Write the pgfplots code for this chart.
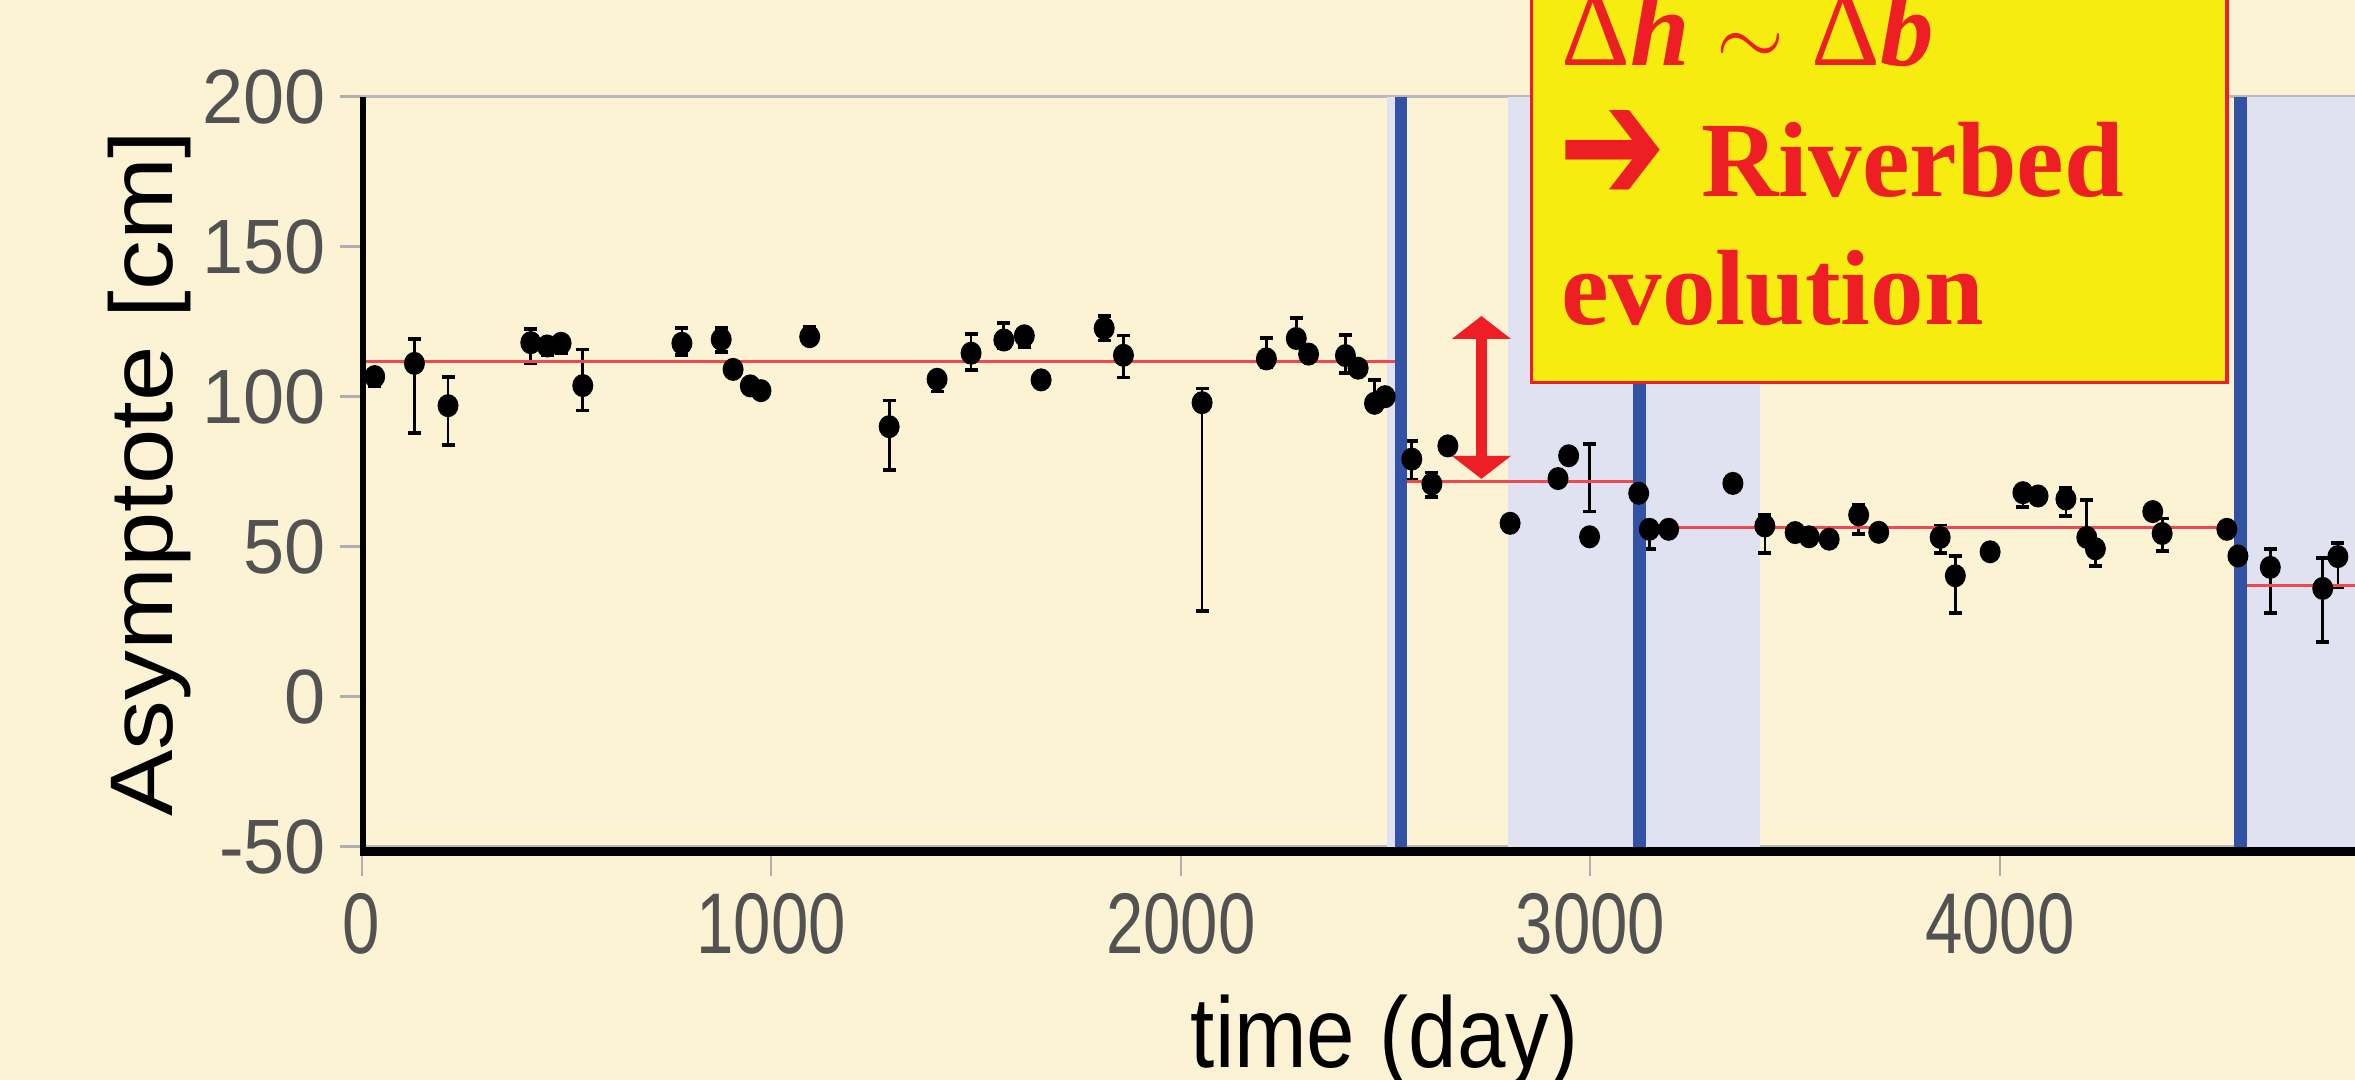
\documentclass[border=0pt]{standalone}
\usepackage{pgfplots}
\usepackage{pgfplotstable}
\usepackage{graphicx}
\pgfplotsset{compat=1.18}
\usepackage{fontspec}
\setmainfont{Liberation Sans}
\newfontfamily\tnr{Liberation Serif}
\newfontfamily\dejavu{DejaVu Sans}
\usetikzlibrary{arrows.meta}
\definecolor{cream}{RGB}{252,243,213}
\definecolor{lav}{RGB}{224,225,241}
\definecolor{blueline}{RGB}{50,82,165}
\definecolor{meanred}{RGB}{238,72,82}
\definecolor{arrowred}{RGB}{237,30,36}
\definecolor{boxyellow}{RGB}{246,236,16}
\definecolor{framegray}{RGB}{185,185,185}
\definecolor{tickgray}{RGB}{175,175,175}
\definecolor{labelgray}{RGB}{82,82,82}
\newcommand\xtl[1]{\scalebox{0.78}[1]{#1}}
\newcommand\ytl[1]{\scalebox{0.96}[1]{#1}}

\pgfplotstableread{
x y ep em
32 106.7 0 3.1
129 111.1 8.1 23.3
211 97.0 9.6 13.1
413 118.0 4.6 6.9
453 116.9 0 3.0
487 117.8 0 3.3
540 103.7 12.0 8.3
782 117.8 5.0 3.9
878 119.1 3.7 4.1
907 109.1 0 0
949 103.6 0 0
975 102.0 0 0
1094 120.0 3.3 0
1288 90.0 8.7 14.4
1405 105.8 0 4.1
1488 114.5 6.4 5.6
1568 118.9 5.6 2.8
1618 120.3 0 3.7
1659 105.6 0 0
1813 122.8 4.1 4.1
1860 113.8 6.6 7.4
2052 98.0 4.7 69.4
2209 112.6 6.9 2.6
2282 119.4 6.9 0
2312 114.2 0 0
2402 113.7 6.8 5.7
2433 109.5 0 0
2473 97.8 7.8 0
2499 100.0 0 0
2564 79.2 6.0 6.8
2613 70.9 3.8 4.4
2652 83.6 0 0
2804 57.8 0 0
2921 72.7 0 0
2947 80.3 0 0
2998 53.3 0 0
3118 67.8 0 0
3144 55.8 0 6.7
3191 55.8 0 0
3348 71.1 0 0
3426 56.9 3.7 9.1
3500 54.7 0 0
3534 53.3 0 0
3583 52.5 0 0
3655 60.6 3.3 6.3
3704 54.8 0 0
3854 53.1 3.9 5.1
3891 40.3 6.6 12.3
3976 48.3 0 0
4056 68.0 0 4.9
4093 66.9 0 0
4161 65.9 3.6 5.6
4212 53.1 12.4 0
4233 49.3 0 5.8
4373 61.7 0 0
4396 54.4 5.0 5.8
4554 55.8 0 0
4581 46.9 0 0
4660 43.1 6.0 15.3
4788 36.1 10.0 18.0
4825 46.7 4.4 10.2
}\asym

\begin{document}
\begin{tikzpicture}
\useasboundingbox (0,0) rectangle (235.5mm,108mm);
\clip (0,0) rectangle (235.5mm,108mm);
\fill[cream] (0,0) rectangle (235.5mm,108mm);
\begin{axis}[
  at={(36.16mm,23.33mm)}, anchor=south west,
  scale only axis, width=200.7mm, height=75mm,
  xmin=0, xmax=4900, ymin=-50, ymax=200,
  clip=false,
  axis line style={draw=framegray, line width=0.35mm},
  xtick={0,1000,2000,3000,4000},
  xticklabels={\xtl{0},\xtl{1000},\xtl{2000},\xtl{3000},\xtl{4000}},
  ytick={-50,0,50,100,150,200},
  yticklabels={\ytl{-50},\ytl{0},\ytl{50},\ytl{100},\ytl{150},\ytl{200}},
  tick align=outside,
  xtick pos=bottom, ytick pos=left,
  xtick style={tickgray, line width=0.2mm, /pgfplots/major tick length=2.9mm},
  ytick style={tickgray, line width=0.33mm, /pgfplots/major tick length=2.16mm},
  xticklabel style={font=\fontsize{24.5}{29}\selectfont, text=labelgray, inner sep=0pt, anchor=north, yshift=-3.1mm},
  yticklabel style={font=\fontsize{21.9}{26}\selectfont, text=labelgray, inner sep=0pt, anchor=east, xshift=-2mm},
]
% shaded periods
\addplot[fill=lav, draw=none, forget plot] coordinates {(2504,-50) (2504,200) (2545,200) (2545,-50)} -- cycle;
\addplot[fill=lav, draw=none, forget plot] coordinates {(2800,-50) (2800,200) (3415,200) (3415,-50)} -- cycle;
\addplot[fill=lav, draw=none, forget plot] coordinates {(4585,-50) (4585,200) (4900,200) (4900,-50)} -- cycle;
% data
\addplot[only marks, mark=*, mark size=1.03mm, black,
  mark options={fill=black, draw=black, xscale=0.95, yscale=1.05},
  error bars/.cd, y dir=both, y explicit,
  error bar style={line width=0.27mm, black},
  error mark=-,
  error mark options={rotate=90, black, line width=0.38mm, mark size=0.65mm}]
  table[x=x, y=y, y error plus=ep, y error minus=em] {\asym};
% lone error bar
\addplot[draw=none, mark=none, forget plot,
  error bars/.cd, y dir=both, y explicit,
  error bar style={line width=0.27mm, black},
  error mark=-,
  error mark options={rotate=90, black, line width=0.38mm, mark size=0.65mm}]
  coordinates {(2998,72.9) +- (0,11.2)};
% period means
\addplot[meanred, line width=0.28mm, forget plot] coordinates {(0,111.8) (2537,111.8)};
\addplot[meanred, line width=0.28mm, forget plot] coordinates {(2537,71.7) (3118,71.7)};
\addplot[meanred, line width=0.28mm, forget plot] coordinates {(3120,56.5) (4588,56.5)};
\addplot[meanred, line width=0.28mm, forget plot] coordinates {(4588,37.0) (4900,37.0)};
% breaks
\addplot[blueline, line width=1.27mm, forget plot] coordinates {(2537.6,-50) (2537.6,200)};
\addplot[blueline, line width=1.27mm, forget plot] coordinates {(3120,-50) (3120,200)};
\addplot[blueline, line width=1.27mm, forget plot] coordinates {(4588,-50) (4588,200)};
% delta arrow
\addplot[arrowred, line width=1.1mm, forget plot,
  {Triangle[width=5.8mm,length=2.3mm]}-{Triangle[width=5.8mm,length=2.3mm]}]
  coordinates {(2734,72.6) (2734,126.9)};
% spines
\draw[black, line width=0.65mm] ([xshift=0.15mm,yshift=-0.9mm]axis cs:0,-50) -- ([xshift=0.15mm]axis cs:0,200);
\draw[black, line width=0.9mm] ([yshift=-0.45mm]axis cs:0,-50) -- ([yshift=-0.45mm]axis cs:4900,-50);
\end{axis}
% annotation box
\filldraw[fill=boxyellow, draw=arrowred, line width=0.35mm] (153.15mm,69.77mm) rectangle (222.7mm,112mm);
\begin{scope}[every node/.style={inner sep=0pt, text=arrowred, font=\tnr\bfseries\fontsize{30.45}{36}\selectfont}]
\node[anchor=base west] at (156.06mm,101.4mm) {{\mdseries Δ}\textit{h} $\sim$ {\mdseries Δ}\textit{b}};
\node[anchor=west] at (155.8mm,92.3mm) {\resizebox*{10.8mm}{9.2mm}{\dejavu\bfseries ➔}};
\node[anchor=base west] at (170.1mm,88.33mm) {Riverbed};
\node[anchor=base west] at (156.06mm,75.5mm) {evolution};
\end{scope}
% axis titles
\node[anchor=base, inner sep=0pt, font=\fontsize{28.5}{34}\selectfont] at (138.45mm,1.2mm) {\scalebox{0.87}[1]{time (day)}};
\node[rotate=90, anchor=base, inner sep=0pt, font=\fontsize{25.3}{30}\selectfont] at (17.2mm,60.66mm) {\scalebox{1.12}[1]{Asymptote [cm]}};
\end{tikzpicture}
\end{document}
